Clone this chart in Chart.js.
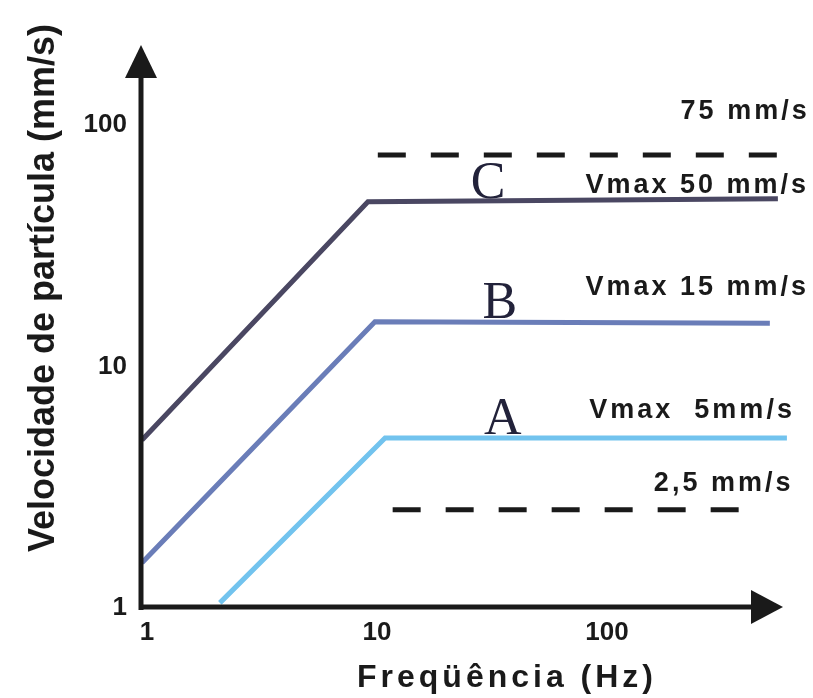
<!DOCTYPE html>
<html>
<head>
<meta charset="utf-8">
<script src="https://cdn.jsdelivr.net/npm/chart.js@4.4.1/dist/chart.umd.min.js"></script>
<style>
  body { margin: 0; background: #fff; }
  canvas { display: block; }
</style>
</head>
<body>
<canvas id="myChart" width="813" height="698"></canvas>
<script>
// values (Hz, mm/s)
const cFreq = [1, 9.6, 582];
const cVel = [4.96, 48, 49.4];
const bFreq = [1, 10.3, 537];
const bVel = [1.54, 15.3, 15.1];
const aFreq = [2.18, 11.4, 637];
const aVel = [1.05, 5.06, 5.06];
const topLimitFreq = [10.6, 582];
const topLimitVel = [75, 75];
const lowLimitFreq = [12.3, 398];
const lowLimitVel = [2.55, 2.55];

const xTickLabels = [1, 10, 100];
const yTickLabels = [1, 10, 100];

// curve letters: text, freq, plateau velocity
const curveLetters = ['C', 'B', 'A'];
const letterFreq = [32, 36, 37];
const letterVel = [48, 15.3, 5.06];

// right-hand notes: text, right edge freq, velocity
const noteTexts = ['75 mm/s', 'Vmax 50 mm/s', 'Vmax 15 mm/s', 'Vmax  5mm/s', '2,5 mm/s'];
const noteFreq = [800, 795, 795, 690, 680];
const noteVel = [113, 55.9, 21.3, 6.54, 3.26];

const xTitle = 'Freqüência (Hz)';
const yTitle = 'Velocidade de partícula (mm/s)';

function pts(xs, ys) {
    return xs.map((x, i) => ({ x: x, y: ys[i] }));
}

function lineSet(label, xs, ys, color, dash) {
    return {
        label: label,
        data: pts(xs, ys),
        borderColor: color,
        borderWidth: 5,
        borderDash: dash || [],
        borderCapStyle: 'butt',
        pointRadius: 0,
        tension: 0,
        fill: false,
        clip: false
    };
}

const arrowAxes = {
    id: 'arrowAxes',
    afterDatasetsDraw(chart) {
        const ctx = chart.ctx;
        const a = chart.chartArea;
        const ax = a.left - 1;
        const ay = a.bottom - 1;
        const tipY = a.top;
        const tipX = a.right - 7;
        ctx.save();
        ctx.strokeStyle = '#1a1a1a';
        ctx.fillStyle = '#1a1a1a';
        ctx.lineWidth = 5;
        ctx.beginPath();
        ctx.moveTo(ax, ay + 3);
        ctx.lineTo(ax, tipY + 30);
        ctx.moveTo(ax - 2, ay);
        ctx.lineTo(tipX - 30, ay);
        ctx.stroke();
        ctx.beginPath();
        ctx.moveTo(ax, tipY);
        ctx.lineTo(ax - 16, tipY + 33);
        ctx.lineTo(ax + 16, tipY + 33);
        ctx.closePath();
        ctx.fill();
        ctx.beginPath();
        ctx.moveTo(tipX, ay);
        ctx.lineTo(tipX - 32, ay - 17);
        ctx.lineTo(tipX - 32, ay + 17);
        ctx.closePath();
        ctx.fill();
        ctx.restore();
    }
};

const textLayer = {
    id: 'textLayer',
    afterDraw(chart) {
        const ctx = chart.ctx;
        const xs = chart.scales.x;
        const ys = chart.scales.y;
        ctx.save();

        // curve letters, thin serif
        ctx.font = 'normal 52px "Liberation Serif", "Times New Roman", serif';
        ctx.textAlign = 'center';
        ctx.textBaseline = 'alphabetic';
        ctx.fillStyle = '#22223a';
        curveLetters.forEach((t, i) => {
            ctx.fillText(t, xs.getPixelForValue(letterFreq[i]), ys.getPixelForValue(letterVel[i]) - 4);
        });

        // notes on the right
        ctx.letterSpacing = '3px';
        ctx.font = 'bold 27px "Liberation Sans", Arial, sans-serif';
        ctx.textAlign = 'right';
        ctx.textBaseline = 'middle';
        ctx.fillStyle = '#1a1a1a';
        noteTexts.forEach((t, i) => {
            ctx.fillText(t, xs.getPixelForValue(noteFreq[i]), ys.getPixelForValue(noteVel[i]));
        });

        // axis titles
        ctx.letterSpacing = '4px';
        ctx.textAlign = 'center';
        ctx.font = 'bold 32px "Liberation Sans", Arial, sans-serif';
        ctx.fillText(xTitle, 507, 678);

        ctx.letterSpacing = '0px';
        ctx.font = 'bold 36px "Liberation Sans", Arial, sans-serif';
        ctx.translate(44, 288);
        ctx.rotate(-Math.PI / 2);
        ctx.fillText(yTitle, 0, 0);
        ctx.restore();
    }
};

const ctx = document.getElementById('myChart').getContext('2d');

new Chart(ctx, {
    type: 'line',
    data: {
        datasets: [
            lineSet('C', cFreq, cVel, '#4a4762'),
            lineSet('B', bFreq, bVel, '#6a7db8'),
            lineSet('A', aFreq, aVel, '#72c3ee'),
            lineSet('75 mm/s', topLimitFreq, topLimitVel, '#1a1a1a', [28, 25]),
            lineSet('2,5 mm/s', lowLimitFreq, lowLimitVel, '#1a1a1a', [28, 25])
        ]
    },
    options: {
        responsive: false,
        animation: false,
        devicePixelRatio: 1,
        layout: { padding: { top: 45, right: 23, left: 0, bottom: 0 } },
        plugins: {
            legend: { display: false },
            tooltip: { enabled: false }
        },
        scales: {
            x: {
                type: 'logarithmic',
                min: 1,
                max: 657,
                grid: { display: false, drawTicks: false },
                border: { display: false },
                ticks: {
                    autoSkip: false,
                    maxRotation: 0,
                    padding: 9,
                    labelOffset: 5,
                    color: '#1a1a1a',
                    font: { family: '"Liberation Sans", Arial, sans-serif', size: 26, weight: 'bold' },
                    callback: v => xTickLabels.includes(v) ? String(v) : null
                },
                afterFit: scale => { scale.height = 90; }
            },
            y: {
                type: 'logarithmic',
                min: 1,
                max: 214,
                grid: { display: false, drawTicks: false },
                border: { display: false },
                ticks: {
                    autoSkip: false,
                    padding: 15,
                    color: '#1a1a1a',
                    font: { family: '"Liberation Sans", Arial, sans-serif', size: 26, weight: 'bold' },
                    callback: v => yTickLabels.includes(v) ? String(v) : null
                },
                afterFit: scale => { scale.width = 142; }
            }
        }
    },
    plugins: [arrowAxes, textLayer]
});
</script>
</body>
</html>
